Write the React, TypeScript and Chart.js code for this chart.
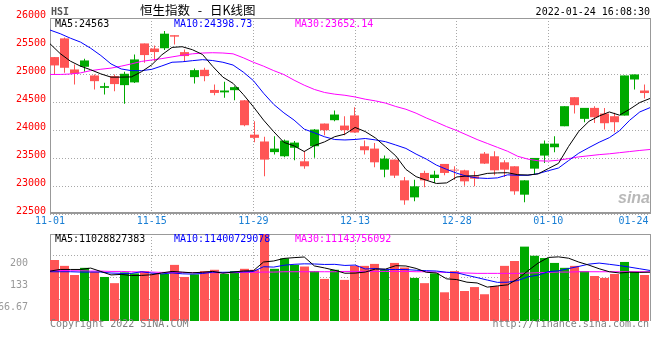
import React, { useEffect, useRef } from 'react';
import { Chart, registerables } from 'chart.js';

Chart.register(...registerables);

// ---- Daily K data (HSI, 2021-11-01 .. 2022-01-24) ----
const opens = [25302, 25636, 25081, 25129, 24974, 24753, 24962, 24801, 24850, 25546,
  25455, 25460, 25693, 25391, 24944, 25075, 24715, 24672, 24711, 24530,
  23917, 23795, 23605, 23531, 23683, 23441, 23710, 24115, 24175, 24079,
  24260, 23710, 23668, 23292, 23471, 23101, 22797, 23233, 23143, 23394,
  23292, 23280, 23173, 23578, 23531, 23423, 23352, 22845, 23310, 23543,
  23692, 24067, 24586, 24199, 24395, 24294, 24246, 24258, 24902, 24705];
const highs = [25305, 25650, 25171, 25272, 24990, 24843, 24992, 25039, 25350, 25546,
  25510, 25767, 25693, 25439, 25099, 25112, 24813, 24860, 24783, 24535,
  24157, 23880, 23890, 23829, 23805, 23630, 24020, 24115, 24348, 24246,
  24407, 23811, 23769, 23543, 23471, 23161, 23113, 23274, 23274, 23394,
  23352, 23290, 23262, 23609, 23620, 23459, 23352, 23101, 23501, 23811,
  23889, 24425, 24586, 24395, 24425, 24395, 24306, 24974, 24992, 24813];
const lows = [24980, 25021, 24813, 25039, 24723, 24634, 24693, 24467, 24840, 25200,
  25230, 25427, 25529, 25230, 24831, 24872, 24622, 24574, 24532, 24067,
  23780, 23175, 23561, 23513, 23460, 23310, 23505, 23906, 24157, 23906,
  23950, 23561, 23334, 23155, 23143, 22666, 22726, 22976, 23054, 23191,
  23113, 23006, 22994, 23395, 23191, 23161, 22845, 22708, 23203, 23412,
  23602, 24067, 24294, 24139, 24127, 24008, 23960, 24258, 24723, 24562];
const closes = [25153, 25111, 25004, 25242, 24872, 24783, 24820, 25004, 25260, 25338,
  25392, 25720, 25667, 25320, 25069, 24962, 24662, 24705, 24765, 24085,
  23860, 23471, 23668, 23811, 23775, 23352, 24008, 23996, 24276, 23996,
  23955, 23638, 23423, 23489, 23185, 22744, 22994, 23101, 23203, 23233,
  23276, 23083, 23131, 23400, 23280, 23292, 22905, 23101, 23501, 23757,
  23757, 24425, 24443, 24395, 24228, 24121, 24139, 24974, 24992, 24660];

const ma5 = [25540, 25365, 25230, 25140, 25076, 25002, 24944, 24944, 24948, 25041,
  25163, 25343, 25475, 25487, 25434, 25348, 25136, 24944, 24833, 24636,
  24415, 24177, 23970, 23779, 23717, 23615, 23723, 23788, 23881, 23926,
  24046, 23972, 23858, 23700, 23538, 23296, 23167, 23103, 23045, 23055,
  23161, 23179, 23185, 23225, 23234, 23237, 23202, 23196, 23216, 23311,
  23404, 23708, 23977, 24155, 24250, 24322, 24265, 24371, 24491, 24563];
const ma10 = [25785, 25720, 25640, 25570, 25460, 25330, 25180, 25090, 25060, 25059,
  25083, 25144, 25210, 25218, 25238, 25256, 25240, 25210, 25160, 25035,
  24882, 24657, 24457, 24306, 24177, 24015, 23950, 23879, 23830, 23822,
  23831, 23848, 23823, 23791, 23732, 23671, 23570, 23481, 23373, 23297,
  23229, 23173, 23144, 23135, 23145, 23199, 23191, 23191, 23221, 23273,
  23321, 23455, 23587, 23686, 23781, 23863, 23987, 24174, 24323, 24399];
const ma30 = [24992, 24992, 25000, 25020, 25060, 25085, 25105, 25140, 25180, 25225,
  25250, 25275, 25305, 25335, 25360, 25375, 25380, 25375, 25360, 25290,
  25210, 25140, 25060, 24990, 24890, 24800, 24724, 24670, 24640, 24620,
  24590, 24550, 24520, 24480, 24420, 24370, 24300, 24215, 24140, 24060,
  23990, 23910, 23830, 23760, 23690, 23620, 23530, 23480, 23450, 23445,
  23460, 23490, 23520, 23540, 23560, 23575, 23595, 23615, 23635, 23652];

// ---- Volume panel (axis units as labelled) ----
const volumes = [187, 169, 141, 163, 151, 135, 116, 149, 146, 153,
  145, 144, 172, 135, 143, 153, 157, 144, 153, 160,
  157, 290, 160, 192, 172, 167, 153, 129, 157, 126,
  169, 169, 175, 157, 178, 164, 132, 116, 146, 88,
  153, 92, 104, 82, 107, 169, 184, 228, 200, 193,
  178, 163, 169, 153, 138, 132, 144, 181, 150, 141];
const volMa5 = [153, 158, 158, 158, 162.2, 151.8, 141.2, 142.8, 139.4, 139.8,
  141.8, 147.4, 152, 149.8, 147.8, 149.4, 152, 146.4, 150, 153.4,
  154.2, 180.8, 184, 191.8, 194.2, 196.2, 168.8, 162.6, 155.6, 146.4,
  146.8, 150, 159.2, 159.2, 169.6, 168.6, 161.2, 149.4, 147.2, 129.2,
  127, 119, 116.6, 103.8, 107.6, 110.8, 129.2, 154, 177.6, 194.8,
  196.6, 192.4, 180.6, 171.2, 160.2, 151, 147.2, 149.6, 149, 149.6];
const volMa10 = [151, 151, 151, 150, 150, 150, 147, 146, 146, 151,
  146.8, 144.3, 147.4, 144.6, 143.8, 145.6, 149.7, 149.2, 149.9, 150.6,
  151.8, 166.4, 165.2, 170.9, 173.8, 175.2, 174.8, 173.3, 173.7, 170.3,
  171.5, 159.4, 160.9, 157.4, 158, 157.7, 155.6, 154.3, 153.2, 149.4,
  147.8, 140.1, 133, 125.5, 118.4, 118.9, 124.1, 135.3, 140.7, 151.2,
  153.7, 160.8, 167.3, 174.4, 177.5, 173.8, 169.8, 165.1, 160.1, 154.9];
const volMa30 = [155, 155, 154, 154, 153, 153, 152, 152, 151, 150,
  150, 149, 149, 149, 148, 148, 148, 148, 148, 149,
  149, 150, 150, 151, 151, 151, 151, 151, 151, 152,
  152, 152, 152, 152, 152, 152, 151, 151, 150, 149,
  148, 147, 146, 146, 146, 146, 146, 147, 148, 149,
  150, 150, 151, 151, 151, 151, 151, 151, 151, 151];

// ---- Axis labels / texts ----
const dateTickIndex = [0, 10, 20, 30, 40, 49, 59];
const dateTickLabels = ['11-01', '11-15', '11-29', '12-13', '12-28', '01-10', '01-24'];
const priceMin = 22500;
const priceMax = 26000;
const priceStep = 500;
const volMax = 266.67;
const volTickValues = [66.67, 133.33, 200];
const volTickLabels = ['66.67', '133', '200'];
const mainLegend = ['MA5:24563', 'MA10:24398.73', 'MA30:23652.14'];
const volLegend = ['MA5:11028827383', 'MA10:11400729078', 'MA30:11143756092'];
const titleText = '恒生指数 - 日K线图';
const codeText = 'HSI';
const timeText = '2022-01-24 16:08:30';
const copyText = 'Copyright 2022 SINA.COM';
const urlText = 'http://finance.sina.com.cn';

const N = opens.length;
const X_MIN = -0.45;
const X_MAX = N + X_MIN;
const lineX = (i: number) => (i * N) / (N - 1) + X_MIN;

const RED = '#ff5555';
const GREEN = '#00aa00';
const LINE_COLORS = ['#000000', '#0000ff', '#ff00ff'];
const MONO = '"DejaVu Sans Mono", monospace';
const GRID = '#a8a8a8';
const FRAME = '#999999';

function xScale(height: number): any {
  return {
    type: 'linear',
    min: X_MIN,
    max: X_MAX,
    offset: false,
    afterBuildTicks: (s: any) => {
      s.ticks = dateTickIndex.map((i) => ({ value: lineX(i) }));
    },
    ticks: { display: false },
    grid: { color: GRID, lineWidth: 1, drawTicks: false, offset: false },
    border: { display: false, dash: [1, 2] },
    afterFit: (s: any) => {
      s.height = height;
      s.paddingLeft = 0;
      s.paddingRight = 0;
    },
  };
}

function lineSet(label: string, values: number[], color: string): any {
  return {
    type: 'line',
    label,
    data: values.map((y, i) => ({ x: lineX(i), y })),
    borderColor: color,
    borderWidth: 1,
    pointRadius: 0,
    tension: 0,
    fill: false,
    order: 0,
  };
}

export default function App() {
  const mainRef = useRef<HTMLCanvasElement>(null);
  const volRef = useRef<HTMLCanvasElement>(null);

  useEffect(() => {
    const colors = closes.map((c, i) => (c >= opens[i] ? GREEN : RED));

    const mainDecor = {
      id: 'mainDecor',
      beforeDatasetsDraw(chart: any) {
        const { ctx, chartArea: a } = chart;
        ctx.save();
        ctx.strokeStyle = FRAME;
        ctx.lineWidth = 1;
        ctx.beginPath();
        ctx.moveTo(a.left + 0.5, a.bottom);
        ctx.lineTo(a.left + 0.5, a.top + 0.5);
        ctx.lineTo(a.right + 0.5, a.top + 0.5);
        ctx.lineTo(a.right + 0.5, a.bottom);
        ctx.stroke();
        ctx.lineWidth = 2;
        ctx.beginPath();
        ctx.moveTo(a.left, a.bottom - 1);
        ctx.lineTo(a.right + 1, a.bottom - 1);
        ctx.stroke();
        ctx.restore();
      },
      afterDraw(chart: any) {
        const { ctx, chartArea: a, scales } = chart;
        ctx.save();
        ctx.textBaseline = 'middle';
        // code
        ctx.font = `bold 10px ${MONO}`;
        ctx.fillStyle = '#555555';
        ctx.textAlign = 'left';
        ctx.fillText(codeText, 51, 12);
        // title
        ctx.font = '12.5px "Noto Sans CJK SC", sans-serif';
        ctx.fillStyle = '#000000';
        (ctx as any).wordSpacing = '5px';
        ctx.fillText(titleText, 140, 10.5);
        (ctx as any).wordSpacing = '0px';
        // time
        ctx.font = `10px ${MONO}`;
        ctx.textAlign = 'right';
        ctx.fillText(timeText, 650, 12);
        // legend
        ctx.textAlign = 'left';
        const lx = [55, 174, 295];
        mainLegend.forEach((t, k) => {
          ctx.fillStyle = LINE_COLORS[k];
          ctx.fillText(t, lx[k], 24);
        });
        // x labels
        ctx.fillStyle = '#1a7fd4';
        ctx.textAlign = 'center';
        dateTickLabels.forEach((t, k) => {
          const px = scales.x.getPixelForValue(lineX(dateTickIndex[k]));
          const w = ctx.measureText(t).width;
          const cx = Math.min(Math.max(px, w / 2), a.right - w / 2 - 1.5);
          ctx.fillText(t, cx, 221);
        });
        // watermark
        ctx.font = 'italic bold 16px "Liberation Sans", sans-serif';
        ctx.fillStyle = 'rgba(160,160,160,0.75)';
        ctx.textAlign = 'left';
        ctx.fillText('sina', 618, 199);
        ctx.restore();
      },
    };

    const volDecor = {
      id: 'volDecor',
      beforeDatasetsDraw(chart: any) {
        const { ctx, chartArea: a } = chart;
        ctx.save();
        ctx.strokeStyle = FRAME;
        ctx.lineWidth = 1;
        ctx.beginPath();
        ctx.moveTo(a.left + 0.5, a.bottom);
        ctx.lineTo(a.left + 0.5, a.top + 0.5);
        ctx.lineTo(a.right + 0.5, a.top + 0.5);
        ctx.lineTo(a.right + 0.5, a.bottom);
        ctx.stroke();
        ctx.restore();
      },
      afterDraw(chart: any) {
        const { ctx } = chart;
        ctx.save();
        ctx.textBaseline = 'middle';
        ctx.font = `10px ${MONO}`;
        ctx.textAlign = 'left';
        const lx = [55, 174, 295];
        volLegend.forEach((t, k) => {
          ctx.fillStyle = LINE_COLORS[k];
          ctx.fillText(t, lx[k], 7.5);
        });
        ctx.fillStyle = '#808080';
        ctx.fillText(copyText, 50, 92);
        ctx.textAlign = 'right';
        ctx.fillText(urlText, 649, 92);
        ctx.restore();
      },
    };

    const mainChart = new Chart(mainRef.current as HTMLCanvasElement, {
      type: 'bar',
      data: {
        datasets: [
          lineSet('MA5', ma5, LINE_COLORS[0]),
          lineSet('MA10', ma10, LINE_COLORS[1]),
          lineSet('MA30', ma30, LINE_COLORS[2]),
          {
            type: 'bar',
            label: 'body',
            data: opens.map((o, i) => ({ x: i, y: [o, closes[i]] })),
            backgroundColor: colors,
            borderWidth: 0,
            barThickness: 9,
            grouped: false,
            inflateAmount: 0,
            order: 1,
          },
          {
            type: 'bar',
            label: 'wick',
            data: lows.map((l, i) => ({ x: i, y: [l, highs[i]] })),
            backgroundColor: colors,
            borderWidth: 0,
            barThickness: 1,
            grouped: false,
            inflateAmount: 0,
            order: 2,
          },
        ] as any,
      },
      options: {
        animation: false,
        responsive: false,
        maintainAspectRatio: false,
        devicePixelRatio: 1,
        events: [],
        layout: { padding: { left: 0, right: 10, top: 18, bottom: 0 } },
        plugins: { legend: { display: false }, tooltip: { enabled: false } },
        scales: {
          x: xScale(18),
          y: {
            type: 'linear',
            min: priceMin,
            max: priceMax,
            ticks: {
              stepSize: priceStep,
              color: '#ff0000',
              font: { family: MONO, size: 10 },
              padding: 4,
              labelOffset: -3,
              callback: (v: any) => String(v),
            },
            grid: { color: GRID, lineWidth: 1, drawTicks: false },
            border: { display: false, dash: [1, 2] },
            afterFit: (s: any) => {
              s.width = 50;
              s.paddingTop = 0;
              s.paddingBottom = 0;
            },
          },
        } as any,
      },
      plugins: [mainDecor],
    });

    const volChart = new Chart(volRef.current as HTMLCanvasElement, {
      type: 'bar',
      data: {
        datasets: [
          lineSet('VMA5', volMa5, LINE_COLORS[0]),
          lineSet('VMA10', volMa10, LINE_COLORS[1]),
          lineSet('VMA30', volMa30, LINE_COLORS[2]),
          {
            type: 'bar',
            label: 'volume',
            data: volumes.map((v, i) => ({ x: i, y: v })),
            backgroundColor: colors,
            borderWidth: 0,
            barThickness: 9,
            grouped: false,
            inflateAmount: 0,
            order: 1,
          },
        ] as any,
      },
      options: {
        animation: false,
        responsive: false,
        maintainAspectRatio: false,
        devicePixelRatio: 1,
        events: [],
        layout: { padding: { left: 0, right: 10, top: 2, bottom: 0 } },
        plugins: { legend: { display: false }, tooltip: { enabled: false } },
        scales: {
          x: xScale(39),
          y: {
            type: 'linear',
            min: 0,
            max: volMax,
            afterBuildTicks: (s: any) => {
              s.ticks = volTickValues.map((v) => ({ value: v }));
            },
            ticks: {
              color: '#999999',
              font: { family: MONO, size: 10 },
              padding: 22,
              labelOffset: 8,
              callback: (_v: any, idx: number) => volTickLabels[idx],
            },
            grid: { color: GRID, lineWidth: 1, drawTicks: false },
            border: { display: false, dash: [1, 2] },
            afterFit: (s: any) => {
              s.width = 50;
              s.paddingTop = 0;
              s.paddingBottom = 0;
            },
          },
        } as any,
      },
      plugins: [volDecor],
    });

    return () => {
      mainChart.destroy();
      volChart.destroy();
    };
  }, []);

  return (
    <div style={{ position: 'absolute', left: 0, top: 0, width: 660, height: 360, background: '#ffffff', overflow: 'hidden' }}>
      <canvas ref={mainRef} width={660} height={232} style={{ position: 'absolute', left: 0, top: 0, width: 660, height: 232, display: 'block' }} />
      <canvas ref={volRef} width={660} height={128} style={{ position: 'absolute', left: 0, top: 232, width: 660, height: 128, display: 'block' }} />
    </div>
  );
}
